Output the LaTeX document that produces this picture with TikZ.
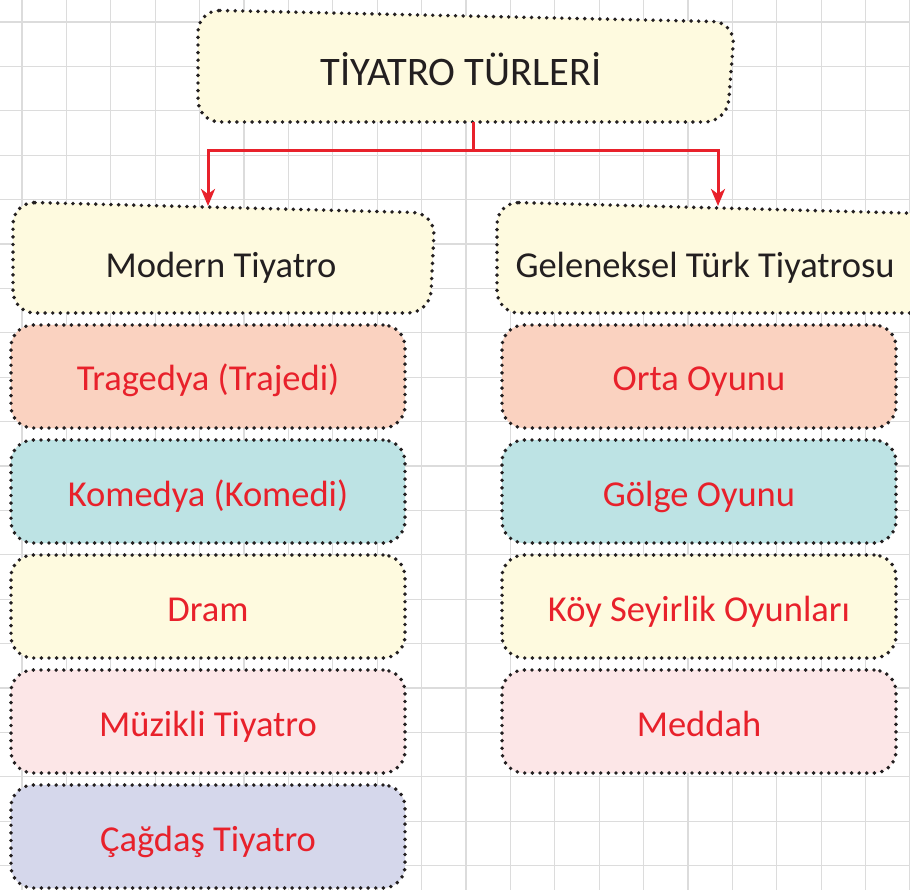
\documentclass[tikz,border=0pt]{standalone}
\usepackage{fontspec}
\setmainfont{Carlito}
\usetikzlibrary{arrows.meta}
\definecolor{ink}{HTML}{231F20}
\definecolor{redx}{HTML}{E8212B}
\definecolor{cream}{HTML}{FEFADF}
\definecolor{salmon}{HTML}{FAD2C0}
\definecolor{tealx}{HTML}{BDE3E4}
\definecolor{pinkx}{HTML}{FCE6E7}
\definecolor{lav}{HTML}{D5D7EB}
\definecolor{gridc}{HTML}{DCDCDC}
\begin{document}
\begin{tikzpicture}[x=1pt,y=-1pt,
  boxline/.style={draw=ink, line width=3.9pt, line cap=round, dash pattern=on 0pt off 7.6pt, rounded corners=22pt},
  item/.style={boxline, rectangle, minimum width=394pt, minimum height=103pt, inner sep=0pt,
    text=redx, font=\fontsize{36.5}{40}\selectfont, text height=29pt, text depth=0pt},
  headtxt/.style={text=ink, inner sep=0pt, anchor=base, font=\fontsize{36.5}{40}\selectfont},
  arr/.style={draw=redx, line width=3pt, -{Stealth[length=17pt,width=14pt,inset=5pt]}}]
\useasboundingbox (0,0) rectangle (910,890);
\clip (0,0) rectangle (910,890);
\fill[white] (0,0) rectangle (910,890);
% grid
\foreach \i in {0,...,20} {
  \draw[gridc, line width=1.3pt] ({22+44.4*\i},0) -- ({22+44.4*\i},890);
  \draw[gridc, line width=1.3pt] (0,{22+44.4*\i}) -- (910,{22+44.4*\i});
}
% title box
\draw[boxline, fill=cream] (198,10) -- (735,22) -- (727,122) -- (198,122) -- cycle;
\node[headtxt, font=\fontsize{40.5}{44}\selectfont] (title) at (461,86) {TİYATRO TÜRLERİ};
\coordinate (tbot) at (473,122);
% second row boxes
\draw[boxline, fill=cream] (13,202) -- (435,213) -- (430,313) -- (13,313) -- cycle;
\node[headtxt] (modern) at (221,278) {Modern Tiyatro};
\coordinate (mtop) at (208,206);
\draw[boxline, fill=cream] (497,202) -- (940,214) -- (940,313) -- (497,313) -- cycle;
\node[headtxt] (gelen) at (705,278) {Geleneksel Türk Tiyatrosu};
\coordinate (gtop) at (718,206);
% connectors
\draw[arr] (tbot) -- ++(0,29) -| (mtop);
\draw[arr] (tbot) -- ++(0,29) -| (gtop);
% left column
\node[item, fill=salmon] (trag) at (208,376.5) {Tragedya (Trajedi)};
\node[item, fill=tealx] (kom) at (208,491.5) {Komedya (Komedi)};
\node[item, fill=cream] (dram) at (208,606.5) {Dram};
\node[item, fill=pinkx] (muz) at (208,721.5) {Müzikli Tiyatro};
\node[item, fill=lav] (cag) at (208,836.5) {Çağdaş Tiyatro};
% right column
\node[item, fill=salmon] (orta) at (699,376.5) {Orta Oyunu};
\node[item, fill=tealx] (golge) at (699,491.5) {Gölge Oyunu};
\node[item, fill=cream] (koy) at (699,606.5) {Köy Seyirlik Oyunları};
\node[item, fill=pinkx] (meddah) at (699,721.5) {Meddah};
\end{tikzpicture}
\end{document}
